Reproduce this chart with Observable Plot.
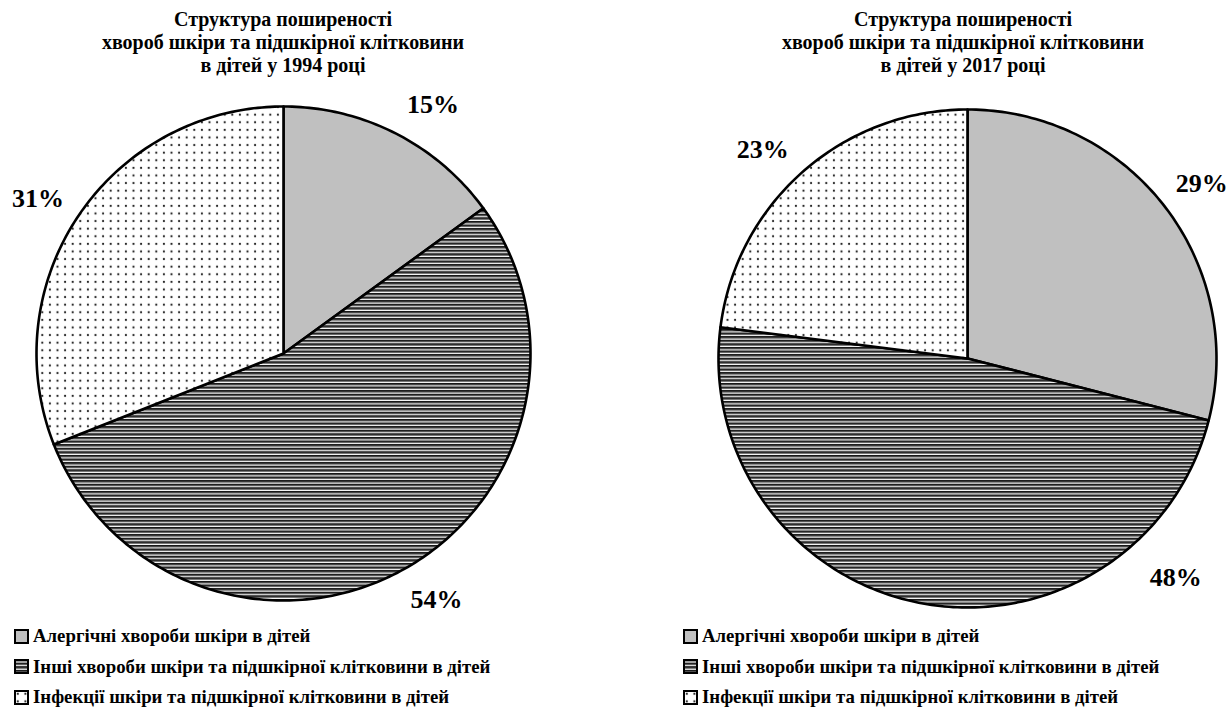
<!DOCTYPE html>
<html>
<head>
<meta charset="utf-8">
<script src="https://cdn.jsdelivr.net/npm/d3@7"></script>
<script src="https://cdn.jsdelivr.net/npm/@observablehq/plot@0.6"></script>
<style>
  html, body { margin: 0; padding: 0; background: #fff; }
  body { width: 1232px; height: 719px; position: relative; overflow: hidden;
         font-family: "Liberation Serif", "Times New Roman", serif; font-weight: bold; color: #000; }
  .title { position: absolute; top: 8px; width: 520px; text-align: center; font-size: 20px; line-height: 23px; }
  .pie { position: absolute; top: 80px; }
  .pie svg { overflow: visible; }
  .legend { position: absolute; top: 621px; font-size: 18.8px; }
  .legend .row { height: 30.5px; display: flex; align-items: center; white-space: nowrap; }
  .legend svg { margin-right: 4px; flex: none; }
</style>
</head>
<body>
<svg width="0" height="0" style="position:absolute">
  <defs>
    <pattern id="pSolid" patternUnits="userSpaceOnUse" width="4" height="4">
      <rect width="4" height="4" fill="#c0c0c0"/>
    </pattern>
    <pattern id="pStripes" patternUnits="userSpaceOnUse" width="8" height="3.6">
      <rect width="8" height="3.6" fill="#ffffff"/>
      <rect y="0" width="8" height="1.7" fill="#111111"/>
      <rect y="1.7" width="8" height="1.0" fill="#7a7a7a"/>
    </pattern>
    <pattern id="pDots" patternUnits="userSpaceOnUse" width="7.6" height="7.6">
      <rect width="7.6" height="7.6" fill="#ffffff"/>
      <circle cx="3.8" cy="3.8" r="1.1" fill="#222"/>
    </pattern>
  </defs>
</svg>

<div class="title" id="t1" style="left:23px"></div>
<div class="title" id="t2" style="left:703px"></div>
<div class="pie" id="pie1" style="left:0px"></div>
<div class="pie" id="pie2" style="left:632px"></div>
<div class="legend" id="lg1" style="left:14px"></div>
<div class="legend" id="lg2" style="left:683px"></div>

<script>
// ---- data ----
const categories = [
  "Алергічні хвороби шкіри в дітей",
  "Інші хвороби шкіри та підшкірної клітковини в дітей",
  "Інфекції шкіри та підшкірної клітковини в дітей"
];
const values1994 = [15, 54, 31];
const values2017 = [29, 48, 23];
const titleLines1994 = ["Структура поширеності", "хвороб шкіри та підшкірної клітковини", "в дітей у 1994 році"];
const titleLines2017 = ["Структура поширеності", "хвороб шкіри та підшкірної клітковини", "в дітей у 2017 році"];

// ---- styling / layout options ----
const patterns = ["url(#pSolid)", "url(#pStripes)", "url(#pDots)"];
const FONT = '"Liberation Serif", "Times New Roman", serif';
// label angle shifts (degrees) and radial distance for data labels, by slice
const labelShift1994 = [4, -3, -2];
const labelShift2017 = [1, -54.4, -3];
const labelRadius1994 = [1.175, 1.175, 1.175];
const labelRadius2017 = [1.175, 1.213, 1.175];

function sliceRows(values) {
  const total = d3.sum(values);
  const rows = [];
  let cum = 0;
  values.forEach((v, i) => {
    const a0 = cum / total * 2 * Math.PI;
    const a1 = (cum + v) / total * 2 * Math.PI;
    rows.push({cat: categories[i], x: 0, y: 0});
    const n = Math.max(2, Math.ceil((a1 - a0) / (Math.PI / 180)));
    for (let k = 0; k <= n; ++k) {
      const a = a0 + (a1 - a0) * k / n;
      rows.push({cat: categories[i], x: Math.sin(a), y: Math.cos(a)});
    }
    cum += v;
  });
  return rows;
}

function labelRows(values, shift, radius) {
  const total = d3.sum(values);
  let cum = 0;
  return values.map((v, i) => {
    const mid = (cum + v / 2) / total * 2 * Math.PI + shift[i] * Math.PI / 180;
    cum += v;
    const R = radius[i];
    return {text: Math.round(v / total * 100) + "%", x: R * Math.sin(mid), y: R * Math.cos(mid)};
  });
}

function pie(values, shift, radius, opts) {
  return Plot.plot({
    width: opts.width,
    height: 540,
    marginLeft: opts.ml, marginRight: opts.width - opts.ml - 2 * opts.r,
    marginTop: opts.mt, marginBottom: 540 - opts.mt - 2 * opts.r,
    x: {domain: [-1, 1], axis: null},
    y: {domain: [-1, 1], axis: null},
    color: {domain: categories, range: patterns},
    style: {background: "transparent", overflow: "visible"},
    marks: [
      Plot.line(sliceRows(values), {x: "x", y: "y", z: "cat", fill: "cat", stroke: "#000",
        strokeWidth: 2.6, curve: "linear-closed", strokeLinejoin: "round"}),
      Plot.text(labelRows(values, shift, radius), {x: "x", y: "y", text: "text", fontSize: 26,
        fontWeight: "bold", fontFamily: FONT, fill: "#000"})
    ]
  });
}

document.getElementById("pie1").appendChild(pie(values1994, labelShift1994, labelRadius1994, {width: 600, ml: 36, mt: 26, r: 247}));
document.getElementById("pie2").appendChild(pie(values2017, labelShift2017, labelRadius2017, {width: 600, ml: 86, mt: 29, r: 249}));

function title(id, lines) {
  const el = document.getElementById(id);
  lines.forEach(l => { const d = document.createElement("div"); d.textContent = l; el.appendChild(d); });
}
title("t1", titleLines1994);
title("t2", titleLines2017);

function legend(id) {
  const el = document.getElementById(id);
  categories.forEach((c, i) => {
    const row = document.createElement("div");
    row.className = "row";
    row.innerHTML = `<svg width="15" height="15"><rect x="1" y="1" width="13" height="13" fill="${patterns[i]}" stroke="#000" stroke-width="2"/></svg>`;
    const s = document.createElement("span");
    s.textContent = c;
    row.appendChild(s);
    el.appendChild(row);
  });
}
legend("lg1");
legend("lg2");
</script>
</body>
</html>
